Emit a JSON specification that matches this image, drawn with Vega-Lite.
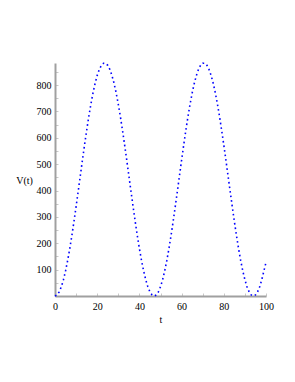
{
  "$schema": "https://vega.github.io/schema/vega-lite/v6.json",
  "autosize": {"type": "none"},
  "padding": {"left": 55, "top": 63, "right": 29, "bottom": 86},
  "width": 211,
  "height": 233,
  "background": "white",
  "config": {"view": {"stroke": null}},
  "data": {"values": [
    {"t":0,"V":0},{"t":1,"V":3.94},{"t":2,"V":15.70},{"t":3,"V":35.07},{"t":4,"V":61.70},{"t":5,"V":95.12},{"t":6,"V":134.72},{"t":7,"V":179.81},{"t":8,"V":229.58},{"t":9,"V":283.14},
    {"t":10,"V":339.54},{"t":11,"V":397.76},{"t":12,"V":456.77},{"t":13,"V":515.52},{"t":14,"V":572.96},{"t":15,"V":628.05},{"t":16,"V":679.83},{"t":17,"V":727.37},{"t":18,"V":769.81},{"t":19,"V":806.40},
    {"t":20,"V":836.49},{"t":21,"V":859.55},{"t":22,"V":875.14},{"t":23,"V":883.01},{"t":24,"V":883.01},{"t":25,"V":875.14},{"t":26,"V":859.55},{"t":27,"V":836.49},{"t":28,"V":806.40},{"t":29,"V":769.81},
    {"t":30,"V":727.37},{"t":31,"V":679.83},{"t":32,"V":628.05},{"t":33,"V":572.96},{"t":34,"V":515.52},{"t":35,"V":456.77},{"t":36,"V":397.76},{"t":37,"V":339.54},{"t":38,"V":283.14},{"t":39,"V":229.58},
    {"t":40,"V":179.81},{"t":41,"V":134.72},{"t":42,"V":95.12},{"t":43,"V":61.70},{"t":44,"V":35.07},{"t":45,"V":15.70},{"t":46,"V":3.94},{"t":47,"V":0},{"t":48,"V":3.94},{"t":49,"V":15.70},
    {"t":50,"V":35.07},{"t":51,"V":61.70},{"t":52,"V":95.12},{"t":53,"V":134.72},{"t":54,"V":179.81},{"t":55,"V":229.58},{"t":56,"V":283.14},{"t":57,"V":339.54},{"t":58,"V":397.76},{"t":59,"V":456.77},
    {"t":60,"V":515.52},{"t":61,"V":572.96},{"t":62,"V":628.05},{"t":63,"V":679.83},{"t":64,"V":727.37},{"t":65,"V":769.81},{"t":66,"V":806.40},{"t":67,"V":836.49},{"t":68,"V":859.55},{"t":69,"V":875.14},
    {"t":70,"V":883.01},{"t":71,"V":883.01},{"t":72,"V":875.14},{"t":73,"V":859.55},{"t":74,"V":836.49},{"t":75,"V":806.40},{"t":76,"V":769.81},{"t":77,"V":727.37},{"t":78,"V":679.83},{"t":79,"V":628.05},
    {"t":80,"V":572.96},{"t":81,"V":515.52},{"t":82,"V":456.77},{"t":83,"V":397.76},{"t":84,"V":339.54},{"t":85,"V":283.14},{"t":86,"V":229.58},{"t":87,"V":179.81},{"t":88,"V":134.72},{"t":89,"V":95.12},
    {"t":90,"V":61.70},{"t":91,"V":35.07},{"t":92,"V":15.70},{"t":93,"V":3.94},{"t":94,"V":0},{"t":95,"V":3.94},{"t":96,"V":15.70},{"t":97,"V":35.07},{"t":98,"V":61.70},{"t":99,"V":95.12},
    {"t":100,"V":127.5}
  ]},
  "mark": {"type": "line", "color": "#0000ff", "strokeWidth": 1.6, "strokeDash": [1.6, 3], "strokeCap": "butt", "clip": false},
  "encoding": {
    "x": {
      "field": "t", "type": "quantitative",
      "scale": {"domain": [0, 100], "nice": false, "zero": false},
      "axis": {
        "title": "t",
        "values": [0,10,20,30,40,50,60,70,80,90,100],
        "labelExpr": "datum.value % 20 == 0 ? datum.label : ''",
        "grid": false,
        "domainColor": "#a0a0a0", "domainWidth": 2,
        "tickColor": "#c8c8c8", "tickWidth": 1, "tickSize": -3,
        "labelPadding": 8,
        "labelFont": "Liberation Serif", "labelFontSize": 10, "labelColor": "#000000",
        "labelFlush": false, "labelOverlap": false,
        "titleFont": "Liberation Serif", "titleFontSize": 10, "titleFontWeight": "normal", "titleColor": "#000000",
        "titlePadding": 3
      }
    },
    "y": {
      "field": "V", "type": "quantitative",
      "scale": {"domain": [0, 884], "nice": false, "zero": true},
      "axis": {
        "title": "V(t)",
        "values": [50,100,150,200,250,300,350,400,450,500,550,600,650,700,750,800,850],
        "labelExpr": "datum.value % 100 == 0 ? datum.label : ''",
        "grid": false,
        "domainColor": "#a0a0a0", "domainWidth": 2,
        "tickColor": "#c8c8c8", "tickWidth": 1, "tickSize": -3,
        "labelPadding": 7,
        "labelFont": "Liberation Serif", "labelFontSize": 10, "labelColor": "#000000",
        "labelFlush": false, "labelOverlap": false,
        "titleFont": "Liberation Serif", "titleFontSize": 10, "titleFontWeight": "normal", "titleColor": "#000000",
        "titleAngle": 0, "titleX": -31, "titleY": 117, "titleAlign": "center", "titleBaseline": "middle"
      }
    }
  }
}
